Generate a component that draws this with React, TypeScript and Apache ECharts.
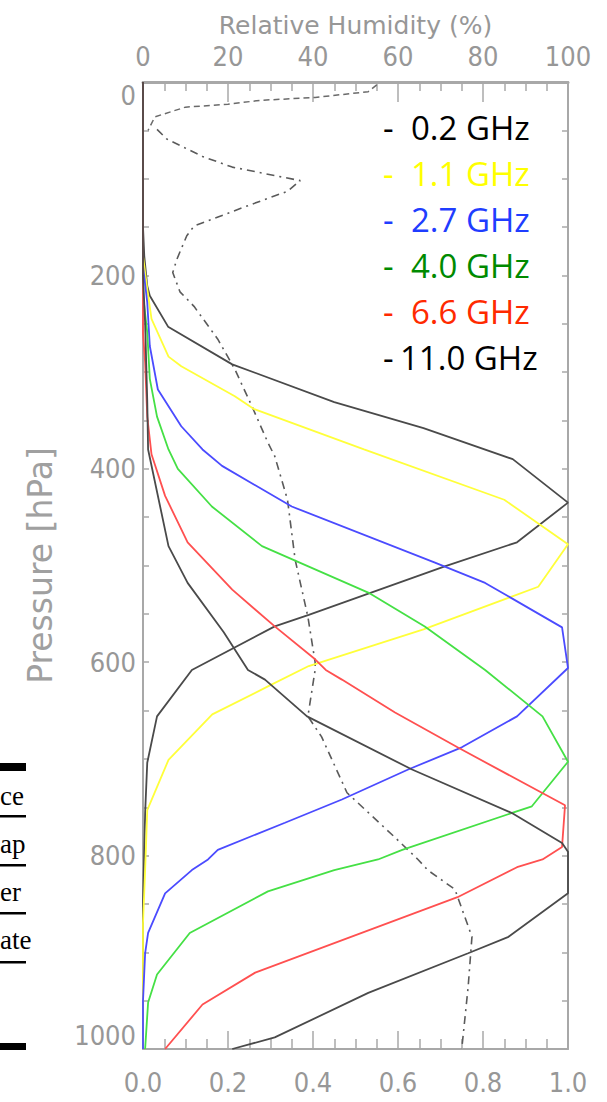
import React, { useEffect, useRef } from "react";
import * as echarts from "echarts";

// Normalised weighting functions: [value, pressure hPa]
const wf02GHz: [number, number][] = [
  [0, 0], [0, 150], [0.003, 180], [0.01, 211], [0.016, 221], [0.059, 253], [0.21, 292],
  [0.45, 331], [0.66, 358], [0.87, 390], [1.0, 435], [0.88, 476], [0.71, 501],
  [0.39, 551], [0.31, 563], [0.115, 608], [0.033, 656], [0.01, 704], [0.005, 756],
  [0, 850], [0, 1000],
];
const wf11GHz: [number, number][] = [
  [0, 0], [0, 180], [0.01, 214], [0.02, 245], [0.06, 284], [0.09, 294], [0.216, 325],
  [0.26, 338], [0.52, 380], [0.85, 432], [1.0, 478], [0.93, 522], [0.66, 566],
  [0.39, 604], [0.294, 625], [0.163, 654], [0.06, 701], [0.01, 753], [0.005, 815],
  [0, 870], [0, 1000],
];
const wf27GHz: [number, number][] = [
  [0, 0], [0, 190], [0.01, 228], [0.016, 273], [0.035, 318], [0.09, 356], [0.14, 380],
  [0.186, 397], [0.35, 439], [0.687, 497], [0.805, 518], [0.986, 564], [1.0, 606],
  [0.88, 656], [0.75, 688], [0.624, 711], [0.468, 742], [0.334, 766], [0.176, 794],
  [0.153, 804], [0.115, 815], [0.052, 839], [0.012, 880], [0.005, 901], [0, 950], [0, 1000],
];
const wf40GHz: [number, number][] = [
  [0, 0], [0, 220], [0.01, 259], [0.016, 307], [0.033, 346], [0.06, 380], [0.082, 400],
  [0.162, 439], [0.28, 480], [0.53, 528], [0.663, 563], [0.805, 608], [0.94, 656],
  [1.0, 703], [0.915, 749], [0.61, 794], [0.553, 804], [0.45, 815], [0.294, 837],
  [0.11, 880], [0.033, 923], [0.012, 952], [0.005, 1000],
];
const wf66GHz: [number, number][] = [
  [0, 0], [0, 260], [0.005, 290], [0.01, 346], [0.02, 385], [0.052, 428], [0.105, 476],
  [0.21, 525], [0.31, 563], [0.405, 597], [0.43, 608], [0.468, 618], [0.593, 652],
  [0.74, 688], [0.993, 748], [0.986, 791], [0.94, 804], [0.88, 812], [0.74, 843],
  [0.264, 921], [0.14, 954], [0.052, 1000],
];
const wf110GHz: [number, number][] = [
  [0, 0], [0, 200], [0.005, 250], [0.01, 330], [0.012, 380], [0.06, 480], [0.105, 518],
  [0.19, 569], [0.247, 608], [0.287, 618], [0.386, 656], [0.633, 711], [0.868, 756],
  [0.986, 787], [1.0, 796], [1.0, 839], [0.86, 884], [0.765, 901], [0.53, 942],
  [0.31, 988], [0.21, 1000],
];

// Relative humidity profile, % against pressure hPa
const rhUpper: [number, number][] = [
  [55, 3], [53, 10], [40.5, 16], [27.5, 19], [20, 23], [10, 26], [2.8, 36], [1.2, 50],
];
const rhProfile: [number, number][] = [
  [3.3, 49], [5.6, 59], [14, 77], [21, 88], [37, 102], [34, 113], [24, 129], [12, 149],
  [10.3, 159], [8, 183], [7, 197], [8.7, 217], [12, 232], [17.6, 266], [21.6, 297],
  [25.6, 335], [29.4, 373], [31, 387], [34, 432], [35.8, 494], [38.8, 553], [40.5, 600],
  [40.5, 608], [38.8, 656], [42, 677], [48, 735], [59, 780], [64.7, 804], [67, 815],
  [73.4, 835], [77.4, 884], [76.5, 936], [75, 1000],
];

const frequencies = ["0.2 GHz", "1.1 GHz", "2.7 GHz", "4.0 GHz", "6.6 GHz", "11.0 GHz"];
const legendColors = ["#000000", "#ffff00", "#1f3dff", "#008a00", "#ff2a00", "#000000"];
const lineColors = ["#4a4a4a", "#ffff3a", "#4b4bff", "#45e045", "#ff5050", "#4a4a4a"];
const curves = [wf02GHz, wf11GHz, wf27GHz, wf40GHz, wf66GHz, wf110GHz];

const pressureTicks = [0, 1000, 200];
const fractionTicks = [0, 1, 0.2];
const humidityTicks = [0, 100, 20];

const tableFragments = ["ce", "ap", "er", "ate"];

const AXIS = "#a8a8a8";
const LABEL = "#979797";
const TICK_FONT = "'DejaVu Sans Condensed', 'DejaVu Sans', sans-serif";

export default function App() {
  const ref = useRef<HTMLDivElement>(null);

  useEffect(() => {
    if (!ref.current) return;
    const chart = echarts.init(ref.current, null, { renderer: "svg" });

    const tickStyle = { color: AXIS, width: 1.5 };
    // frame-style axes: lines stay on the grid edges, ticks point into the plot
    const frame = (width: number, major: number, minor: number) => ({
      axisLine: { show: true, onZero: false, lineStyle: { color: AXIS, width } },
      axisTick: { show: true, inside: true, length: major, lineStyle: tickStyle },
      minorTick: { show: true, splitNumber: 4, length: minor, lineStyle: tickStyle },
      splitLine: { show: false },
    });

    const series: any[] = curves.map((data, i) => ({
      name: frequencies[i],
      type: "line",
      xAxisIndex: 0,
      yAxisIndex: 0,
      data,
      symbol: "none",
      lineStyle: { color: lineColors[i], width: 1.8 },
      z: 3,
    }));
    series.push({
      name: "RH upper",
      type: "line",
      xAxisIndex: 1,
      yAxisIndex: 0,
      data: rhUpper,
      symbol: "none",
      lineStyle: { color: "#6a6a6a", width: 1.5, type: [6, 4] },
      z: 2,
    });
    series.push({
      name: "RH",
      type: "line",
      xAxisIndex: 1,
      yAxisIndex: 0,
      data: rhProfile,
      symbol: "none",
      lineStyle: { color: "#5a5a5a", width: 1.6, type: [8, 5, 2, 5] },
      z: 2,
    });

    const legendGraphics: any[] = [];
    frequencies.forEach((f, i) => {
      const y = 127 + i * 46;
      legendGraphics.push({
        type: "text",
        x: 383,
        y,
        style: {
          text: "-",
          fill: legendColors[i],
          font: "33px 'Open Sans', sans-serif",
          verticalAlign: "middle",
          textAlign: "left",
        },
      });
      legendGraphics.push({
        type: "text",
        x: f.startsWith("11") ? 400 : 411,
        y,
        style: {
          text: f,
          fill: legendColors[i],
          font: "33px 'Open Sans', sans-serif",
          verticalAlign: "middle",
          textAlign: "left",
        },
      });
    });

    const tableGraphics: any[] = [
      { type: "rect", shape: { x: 0, y: 763, width: 26, height: 8 }, style: { fill: "#000" } },
      { type: "rect", shape: { x: 0, y: 1043, width: 26, height: 7 }, style: { fill: "#000" } },
    ];
    [816, 865, 913, 962].forEach((y) => {
      tableGraphics.push({
        type: "rect",
        shape: { x: 0, y: y - 1, width: 26, height: 2.5 },
        style: { fill: "#000" },
      });
    });
    tableFragments.forEach((t, i) => {
      tableGraphics.push({
        type: "text",
        x: 0,
        y: 796 + i * 48,
        style: {
          text: t,
          fill: "#000",
          font: "27px 'Liberation Serif', serif",
          verticalAlign: "middle",
          textAlign: "left",
        },
      });
    });

    chart.setOption({
      animation: false,
      backgroundColor: "#ffffff",
      grid: { left: 143, right: 39, top: 82, bottom: 53, containLabel: false },
      xAxis: [
        {
          type: "value",
          position: "bottom",
          min: fractionTicks[0],
          max: fractionTicks[1],
          interval: fractionTicks[2],
          ...frame(2, 18, 10),
          axisLabel: {
            formatter: (v: number) => v.toFixed(1),
            color: LABEL,
            fontSize: 27,
            fontFamily: TICK_FONT,
            margin: 20,
          },
        },
        {
          type: "value",
          position: "top",
          min: humidityTicks[0],
          max: humidityTicks[1],
          interval: humidityTicks[2],
          name: "Relative Humidity (%)",
          nameLocation: "middle",
          nameGap: 44,
          nameTextStyle: { color: LABEL, fontSize: 25, fontFamily: "'DejaVu Sans', sans-serif" },
          ...frame(3, 20, 9),
          axisLabel: {
            formatter: (v: number) => String(v),
            color: LABEL,
            fontSize: 27,
            fontFamily: TICK_FONT,
            margin: 12,
          },
        },
      ],
      yAxis: [
        {
          type: "value",
          position: "left",
          inverse: true,
          min: pressureTicks[0],
          max: pressureTicks[1],
          interval: pressureTicks[2],
          name: "Pressure [hPa]",
          nameLocation: "middle",
          nameRotate: 90,
          nameGap: 86,
          nameTextStyle: { color: "#a0a0a0", fontSize: 33, fontFamily: "'DejaVu Sans', sans-serif" },
          ...frame(2, 6, 6),
          axisLabel: {
            formatter: (v: number) => String(v),
            color: LABEL,
            fontSize: 27,
            fontFamily: TICK_FONT,
            margin: 7,
            verticalAlignMinLabel: "top",
            verticalAlignMaxLabel: "bottom",
          },
        },
        {
          type: "value",
          position: "right",
          inverse: true,
          min: pressureTicks[0],
          max: pressureTicks[1],
          interval: pressureTicks[2],
          ...frame(2, 6, 6),
          axisLabel: { show: false },
        },
      ],
      series,
      graphic: [...legendGraphics, ...tableGraphics],
    });

    return () => chart.dispose();
  }, []);

  return (
    <div
      ref={ref}
      style={{ position: "absolute", left: 0, top: 0, width: 607, height: 1102, background: "#fff" }}
    />
  );
}
